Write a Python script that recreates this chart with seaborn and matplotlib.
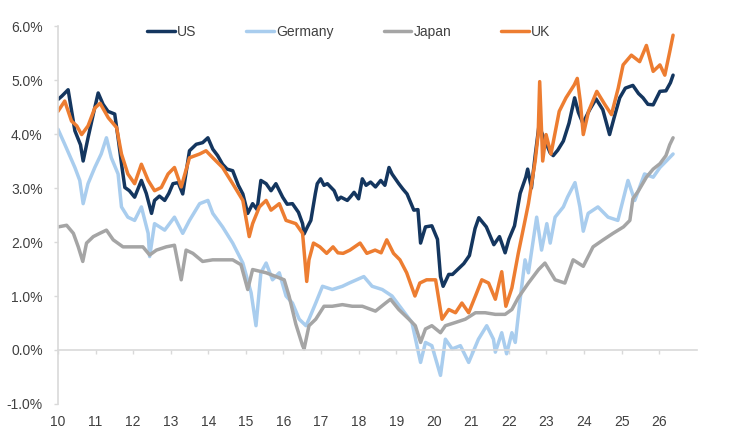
import pandas as pd
import matplotlib.pyplot as plt
from matplotlib.ticker import FuncFormatter
import seaborn as sns

# values (decimal year, yield %)
us_t = [2010.00, 2010.10, 2010.27, 2010.45, 2010.60, 2010.67, 2010.80, 2010.95,
        2011.07, 2011.20, 2011.33, 2011.51, 2011.60, 2011.70, 2011.78, 2011.90,
        2012.04, 2012.22, 2012.35, 2012.49, 2012.57, 2012.70, 2012.84, 2012.95,
        2013.06, 2013.20, 2013.32, 2013.50, 2013.68, 2013.85, 2013.99,
        2014.12, 2014.25, 2014.38, 2014.50, 2014.65, 2014.80, 2014.92,
        2015.05, 2015.18, 2015.30, 2015.40, 2015.54, 2015.67, 2015.80, 2015.98,
        2016.10, 2016.24, 2016.40, 2016.51, 2016.55, 2016.64, 2016.73, 2016.85, 2016.90, 2016.99,
        2017.08, 2017.17, 2017.35, 2017.45, 2017.53, 2017.70, 2017.80, 2017.88,
        2018.00, 2018.10, 2018.20, 2018.32, 2018.45, 2018.59, 2018.70, 2018.81, 2018.89,
        2019.07, 2019.18, 2019.29, 2019.47, 2019.58, 2019.65, 2019.78, 2019.95,
        2020.10, 2020.18, 2020.25, 2020.40, 2020.50, 2020.65, 2020.80, 2020.95,
        2021.10, 2021.20, 2021.40, 2021.60, 2021.75, 2021.90,
        2022.00, 2022.15, 2022.30, 2022.45, 2022.50, 2022.60, 2022.70, 2022.80, 2022.95,
        2023.10, 2023.18, 2023.30, 2023.45, 2023.60, 2023.75, 2023.85, 2023.97,
        2024.15, 2024.32, 2024.50, 2024.68, 2024.80, 2024.95,
        2025.10, 2025.30, 2025.45, 2025.57, 2025.70, 2025.84,
        2026.02, 2026.18, 2026.30, 2026.37]
us_v = [4.64, 4.70, 4.82, 4.06, 3.80, 3.50, 3.93, 4.40,
        4.76, 4.55, 4.42, 4.37, 3.93, 3.40, 3.01, 2.95,
        2.83, 3.14, 2.90, 2.53, 2.77, 2.85, 2.77, 2.90,
        3.08, 3.10, 2.89, 3.69, 3.81, 3.84, 3.93,
        3.72, 3.60, 3.44, 3.35, 3.32, 3.05, 2.89,
        2.53, 2.71, 2.60, 3.14, 3.08, 2.95, 3.08, 2.83,
        2.70, 2.71, 2.55, 2.34, 2.15, 2.28, 2.40, 2.90, 3.08, 3.17,
        3.05, 3.08, 2.95, 2.78, 2.83, 2.77, 2.85, 2.92,
        2.80, 3.17, 3.05, 3.11, 3.02, 3.14, 3.05, 3.38, 3.26,
        3.08, 2.98, 2.89, 2.59, 2.60, 1.98, 2.28, 2.30,
        2.05, 1.36, 1.18, 1.40, 1.40, 1.50, 1.60, 1.75,
        2.25, 2.45, 2.28, 1.95, 2.10, 1.80,
        2.05, 2.30, 2.90, 3.20, 3.35, 3.00, 3.60, 4.15, 3.90,
        3.65, 3.60, 3.70, 3.87, 4.20, 4.67, 4.40, 4.20,
        4.45, 4.65, 4.45, 3.99, 4.30, 4.67,
        4.85, 4.90, 4.75, 4.67, 4.55, 4.54,
        4.79, 4.80, 4.95, 5.09]

de_t = [2010.00, 2010.18, 2010.45, 2010.58, 2010.67, 2010.80, 2010.98,
        2011.15, 2011.29, 2011.42, 2011.60, 2011.69, 2011.86,
        2012.04, 2012.22, 2012.40, 2012.44, 2012.57, 2012.84,
        2013.10, 2013.32, 2013.50, 2013.77, 2013.99,
        2014.12, 2014.38, 2014.65, 2014.92,
        2015.14, 2015.27, 2015.40, 2015.54, 2015.71, 2015.89,
        2016.07, 2016.24, 2016.42, 2016.60, 2016.68, 2016.86,
        2017.04, 2017.30, 2017.57, 2017.75,
        2018.14, 2018.36, 2018.63, 2018.89,
        2019.16, 2019.42, 2019.65, 2019.78, 2019.95,
        2020.18, 2020.31, 2020.49, 2020.71, 2020.93,
        2021.19, 2021.41, 2021.59, 2021.64, 2021.81, 2021.94,
        2022.08, 2022.17, 2022.30, 2022.43, 2022.52, 2022.65, 2022.74, 2022.87,
        2023.01, 2023.10, 2023.23, 2023.45, 2023.56, 2023.76, 2023.89, 2023.98,
        2024.11, 2024.37, 2024.64, 2024.90,
        2025.17, 2025.35, 2025.61, 2025.84,
        2026.02, 2026.19, 2026.37]
de_v = [4.09, 3.81, 3.38, 3.14, 2.71, 3.08, 3.38,
        3.63, 3.93, 3.56, 3.26, 2.65, 2.46,
        2.40, 2.65, 2.16, 1.73, 2.34, 2.22,
        2.46, 2.16, 2.40, 2.71, 2.77,
        2.53, 2.28, 1.98, 1.61,
        1.06, 0.45, 1.43, 1.61, 1.30, 1.43,
        1.00, 0.87, 0.57, 0.45, 0.57, 0.87,
        1.18, 1.12, 1.18, 1.24,
        1.36, 1.18, 1.12, 1.00,
        0.75, 0.51, -0.23, 0.14, 0.08,
        -0.47, 0.20, 0.02, 0.08, -0.23,
        0.20, 0.45, 0.20, -0.04, 0.32, -0.07,
        0.32, 0.14, 0.94, 1.67, 1.43, 2.04, 2.46, 1.85,
        2.34, 1.98, 2.46, 2.65, 2.83, 3.10, 2.65, 2.20,
        2.53, 2.65, 2.46, 2.40,
        3.14, 2.77, 3.26, 3.20,
        3.38, 3.50, 3.63]

jp_t = [2010.01, 2010.23, 2010.41, 2010.54, 2010.66, 2010.76, 2010.94,
        2011.11, 2011.29, 2011.47, 2011.73,
        2012.00, 2012.26, 2012.44, 2012.62, 2012.88,
        2013.10, 2013.28, 2013.41, 2013.59, 2013.85,
        2014.12, 2014.38, 2014.65, 2014.87,
        2015.05, 2015.18, 2015.54, 2015.80,
        2016.02, 2016.15, 2016.33, 2016.51, 2016.55, 2016.68, 2016.86,
        2017.08, 2017.30, 2017.57, 2017.83,
        2018.10, 2018.45, 2018.72, 2018.85,
        2019.07, 2019.34, 2019.51, 2019.65, 2019.78, 2019.95,
        2020.18, 2020.31, 2020.58, 2020.84,
        2021.11, 2021.37, 2021.64, 2021.90,
        2022.08, 2022.25, 2022.52, 2022.79, 2022.96,
        2023.23, 2023.49, 2023.71, 2023.98,
        2024.24, 2024.51, 2024.77,
        2025.05, 2025.22, 2025.30, 2025.45, 2025.66, 2025.84,
        2026.02, 2026.18, 2026.28, 2026.37]
jp_v = [2.28, 2.31, 2.16, 1.91, 1.64, 1.98, 2.10,
        2.16, 2.22, 2.04, 1.91,
        1.91, 1.91, 1.76, 1.85, 1.91,
        1.94, 1.30, 1.85, 1.79, 1.64,
        1.67, 1.67, 1.67, 1.58,
        1.12, 1.49, 1.43, 1.36,
        1.30, 1.00, 0.48, 0.08, 0.02, 0.45, 0.57,
        0.81, 0.81, 0.84, 0.81,
        0.81, 0.72, 0.87, 0.94,
        0.75, 0.57, 0.45, 0.14, 0.39, 0.45,
        0.32, 0.45, 0.51, 0.57,
        0.69, 0.69, 0.66, 0.66,
        0.75, 0.97, 1.24, 1.49, 1.61,
        1.30, 1.24, 1.67, 1.55,
        1.91, 2.04, 2.16,
        2.28, 2.40, 2.80, 2.95, 3.20, 3.35,
        3.45, 3.60, 3.80, 3.93]

uk_t = [2010.00, 2010.18, 2010.36, 2010.50, 2010.63, 2010.80, 2010.98,
        2011.12, 2011.34, 2011.56, 2011.69, 2011.86,
        2012.04, 2012.22, 2012.40, 2012.57, 2012.75, 2012.93,
        2013.10, 2013.28, 2013.50, 2013.77, 2013.94,
        2014.12, 2014.38, 2014.65, 2014.92,
        2015.09, 2015.18, 2015.36, 2015.54, 2015.67, 2015.89,
        2016.07, 2016.33, 2016.51, 2016.62, 2016.68, 2016.80, 2016.97,
        2017.15, 2017.32, 2017.45, 2017.59, 2017.77,
        2018.04, 2018.22, 2018.44, 2018.60, 2018.75, 2018.93,
        2019.10, 2019.28, 2019.50, 2019.63, 2019.81,
        2020.05, 2020.22, 2020.40, 2020.58, 2020.75, 2020.93,
        2021.11, 2021.28, 2021.46, 2021.64, 2021.81, 2021.92,
        2022.08, 2022.25, 2022.43, 2022.52, 2022.70, 2022.78, 2022.82, 2022.90, 2022.99,
        2023.12, 2023.34, 2023.52, 2023.74, 2023.82, 2023.90, 2023.98,
        2024.12, 2024.34, 2024.56, 2024.73, 2024.91,
        2025.04, 2025.26, 2025.48, 2025.66, 2025.84,
        2026.02, 2026.15, 2026.28, 2026.37]
uk_v = [4.42, 4.61, 4.24, 4.15, 3.99, 4.15, 4.48,
        4.57, 4.30, 4.12, 3.63, 3.26,
        3.08, 3.44, 3.14, 2.95, 3.01, 3.26,
        3.38, 3.02, 3.56, 3.63, 3.69,
        3.56, 3.38, 3.08, 2.77,
        2.10, 2.34, 2.65, 2.77, 2.59, 2.71,
        2.40, 2.34, 2.16, 1.27, 1.67, 1.98, 1.91,
        1.79, 1.91, 1.80, 1.79, 1.85,
        1.98, 1.79, 1.85, 1.80, 2.04, 1.79,
        1.67, 1.43, 1.00, 1.24, 1.30,
        1.30, 0.57, 0.75, 0.69, 0.87, 0.69,
        1.00, 1.30, 1.24, 0.94, 1.45, 0.81,
        1.15, 1.79, 2.40, 2.71, 3.50, 4.00, 4.97, 3.50, 3.99,
        3.63, 4.42, 4.67, 4.91, 5.03, 4.61, 3.99,
        4.42, 4.79, 4.54, 4.36, 4.85,
        5.28, 5.46, 5.34, 5.64, 5.16,
        5.28, 5.09, 5.52, 5.83]

countries = ["US", "Germany", "Japan", "UK"]
colors = ["#14365F", "#A9CDEE", "#A5A5A5", "#ED7D31"]
year_ticks = list(range(2010, 2027))
year_labels = [str(y)[2:] for y in year_ticks]

frames = []
for name, t, v in zip(countries, [us_t, de_t, jp_t, uk_t], [us_v, de_v, jp_v, uk_v]):
    frames.append(pd.DataFrame({"year": t, "yield": v, "country": name}))
df = pd.concat(frames, ignore_index=True)

sns.set_theme(style="white")
plt.rcParams["font.family"] = ["Liberation Sans", "DejaVu Sans"]
txt = "#404040"
grey = "#D9D9D9"

fig = plt.figure(figsize=(7.5, 4.44), dpi=100)
ax = fig.add_axes([0.0773, 0.0901, 0.8517, 0.8513])

sns.lineplot(data=df, x="year", y="yield", hue="country", hue_order=countries,
             palette=colors, linewidth=2.5, estimator=None, legend=False, ax=ax)

ax.set_xlim(2010, 2027)
ax.set_ylim(-1, 6)
ax.set_xlabel("")
ax.set_ylabel("")
ax.set_yticks(range(-1, 7))
ax.yaxis.set_major_formatter(FuncFormatter(lambda v, p: f"{v:.1f}%"))
ax.set_xticks(year_ticks)
ax.set_xticklabels(year_labels)

for s in ["top", "right"]:
    ax.spines[s].set_visible(False)
ax.spines["left"].set_color(grey)
ax.spines["left"].set_linewidth(1.2)
ax.spines["bottom"].set_color(grey)
ax.spines["bottom"].set_linewidth(1.2)
ax.spines["bottom"].set_position(("data", 0))

ax.tick_params(axis="y", direction="out", length=3, width=1, color=grey,
               labelsize=10, labelcolor=txt, pad=8, left=True)
ax.tick_params(axis="x", direction="out", length=3, width=1, color=grey,
               labelsize=10, labelcolor=txt, pad=44, bottom=True)

ax.legend(handles=ax.lines[:4], labels=countries, loc="center", ncol=4,
          bbox_to_anchor=(0.465, 0.928), bbox_transform=fig.transFigure,
          frameon=False, fontsize=10, handlelength=2.0, handletextpad=0.15,
          columnspacing=3.6, labelcolor=txt)

fig.savefig("out.png", dpi=100)
